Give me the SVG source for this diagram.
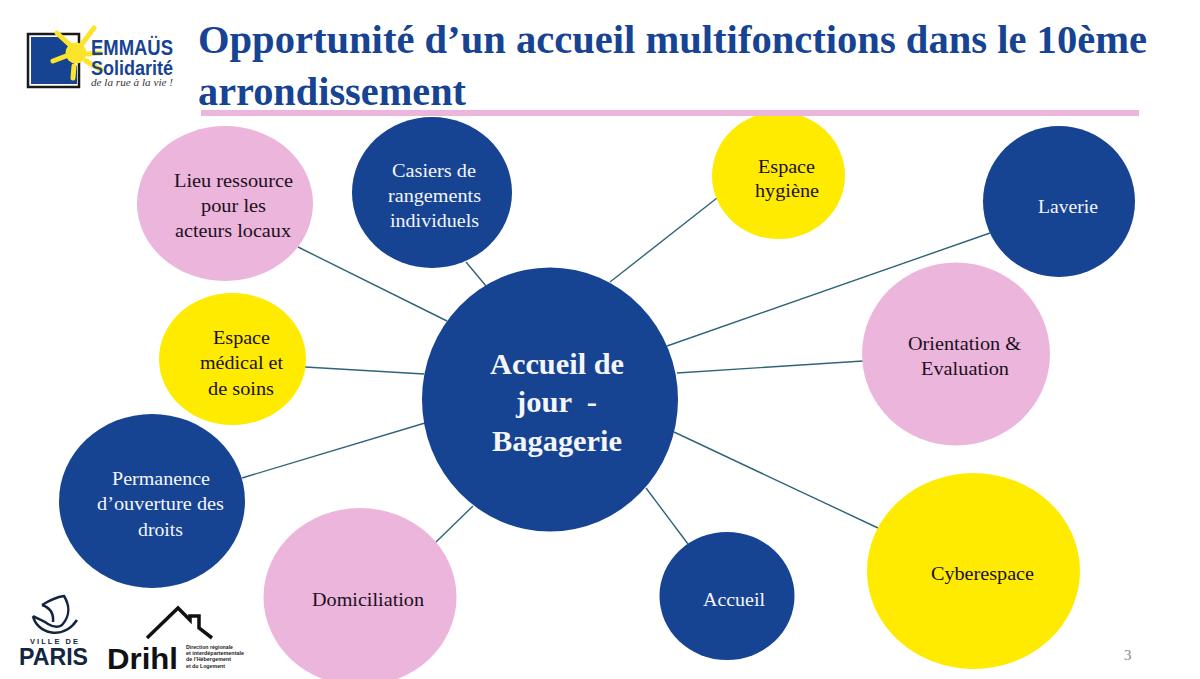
<svg xmlns="http://www.w3.org/2000/svg" width="1200" height="679" viewBox="0 0 1200 679">
<style>
.n{font-family:"Liberation Serif",serif;font-size:19px}
.m{font-size:29px;font-weight:bold}
.w{fill:#f4f6fb}.k{fill:#1b1020}
.b{fill:#174393}.p{fill:#ecb5dc}.y{fill:#feeb00}
.t{font-family:"Liberation Serif",serif;font-size:40px;font-weight:bold;fill:#174393}
.c line{stroke:#2f6478;stroke-width:1.4}
.lg{font-family:"Liberation Sans",sans-serif;font-weight:bold}
.s{font-family:"Liberation Sans",sans-serif;font-size:5px;font-weight:bold;fill:#222}
.ray{stroke:#fbe42a;stroke-width:5;stroke-linecap:round}
</style>
<rect width="1200" height="679" fill="#fff"/>
<g id="connectors" class="c">
<line x1="298" y1="247" x2="447" y2="321"/>
<line x1="466" y1="262" x2="486" y2="286"/>
<line x1="610" y1="282" x2="717" y2="198"/>
<line x1="667" y1="346" x2="990" y2="233"/>
<line x1="677" y1="373" x2="863" y2="361"/>
<line x1="674" y1="432" x2="878" y2="528"/>
<line x1="646" y1="488" x2="688" y2="544"/>
<line x1="473" y1="506" x2="436" y2="542"/>
<line x1="242" y1="478" x2="425" y2="423"/>
<line x1="305" y1="367" x2="424" y2="374"/>
</g>
<g id="node-lieu"><ellipse class="p" cx="225" cy="203.500" rx="88" ry="77.500"/><text class="n k" x="174" y="187" textLength="119" lengthAdjust="spacingAndGlyphs">Lieu ressource</text><text class="n k" x="201" y="212" textLength="65" lengthAdjust="spacingAndGlyphs">pour les</text><text class="n k" x="175" y="237" textLength="116" lengthAdjust="spacingAndGlyphs">acteurs locaux</text></g>
<g id="node-casiers"><ellipse class="b" cx="432" cy="192.500" rx="80" ry="75.500"/><text class="n w" x="392" y="177" textLength="84" lengthAdjust="spacingAndGlyphs">Casiers de</text><text class="n w" x="388" y="202" textLength="93" lengthAdjust="spacingAndGlyphs">rangements</text><text class="n w" x="390" y="227" textLength="89" lengthAdjust="spacingAndGlyphs">individuels</text></g>
<g id="node-hygiene"><ellipse class="y" cx="778.500" cy="175.500" rx="66.500" ry="63.500"/><text class="n k" x="758" y="173" textLength="57" lengthAdjust="spacingAndGlyphs">Espace</text><text class="n k" x="755" y="197" textLength="64" lengthAdjust="spacingAndGlyphs">hygiène</text></g>
<g id="node-laverie"><ellipse class="b" cx="1059" cy="201.500" rx="76" ry="75.500"/><text class="n w" x="1038" y="213" textLength="60" lengthAdjust="spacingAndGlyphs">Laverie</text></g>
<g id="node-orientation"><ellipse class="p" cx="956" cy="354" rx="94" ry="91.500"/><text class="n k" x="908" y="350" textLength="113" lengthAdjust="spacingAndGlyphs">Orientation &amp;</text><text class="n k" x="921" y="375" textLength="88" lengthAdjust="spacingAndGlyphs">Evaluation</text></g>
<g id="node-cyber"><ellipse class="y" cx="973.500" cy="571" rx="106.500" ry="98"/><text class="n k" x="931" y="580" textLength="103" lengthAdjust="spacingAndGlyphs">Cyberespace</text></g>
<g id="node-accueil"><ellipse class="b" cx="727" cy="596" rx="67.500" ry="64"/><text class="n w" x="703" y="606" textLength="62" lengthAdjust="spacingAndGlyphs">Accueil</text></g>
<g id="node-domiciliation"><ellipse class="p" cx="360" cy="597" rx="96.500" ry="89"/><text class="n k" x="312" y="606" textLength="112" lengthAdjust="spacingAndGlyphs">Domiciliation</text></g>
<g id="node-permanence"><ellipse class="b" cx="152" cy="501" rx="93" ry="87"/><text class="n w" x="112" y="485" textLength="98" lengthAdjust="spacingAndGlyphs">Permanence</text><text class="n w" x="97" y="510" textLength="127" lengthAdjust="spacingAndGlyphs">d’ouverture des</text><text class="n w" x="138" y="536" textLength="45" lengthAdjust="spacingAndGlyphs">droits</text></g>
<g id="node-medical"><ellipse class="y" cx="232.500" cy="359" rx="73.500" ry="66"/><text class="n k" x="213" y="344" textLength="57" lengthAdjust="spacingAndGlyphs">Espace</text><text class="n k" x="200" y="369" textLength="83" lengthAdjust="spacingAndGlyphs">médical et</text><text class="n k" x="208" y="395" textLength="66" lengthAdjust="spacingAndGlyphs">de soins</text></g>
<g id="node-center"><ellipse class="b" cx="550" cy="399.500" rx="128" ry="132"/><text class="n w m" x="490" y="374" textLength="134" lengthAdjust="spacingAndGlyphs">Accueil de</text><text class="n w m" x="516" y="412" xml:space="preserve" textLength="81" lengthAdjust="spacingAndGlyphs">jour  -</text><text class="n w m" x="492" y="451" textLength="130" lengthAdjust="spacingAndGlyphs">Bagagerie</text></g>
<text class="t" x="198" y="53" textLength="949" lengthAdjust="spacingAndGlyphs">Opportunité d’un accueil multifonctions dans le 10ème</text>
<text class="t" x="198" y="105" textLength="268" lengthAdjust="spacingAndGlyphs">arrondissement</text>
<rect x="201" y="110" width="938" height="6" fill="#ecb5dc"/>
<text x="1124" y="660" style="font-family:'Liberation Serif',serif;font-size:15px" fill="#888">3</text>
<g id="logo-emmaus">
<rect x="28" y="34" width="51" height="53" fill="#fff" stroke="#1a1a1a" stroke-width="2.500"/>
<path d="M31 37H60L68 46L66 56L77 66V84H31Z" fill="#174393"/>
<g class="ray"><line x1="70" y1="45" x2="57" y2="33"/><line x1="82" y1="44" x2="94" y2="28"/><line x1="66" y1="56" x2="53" y2="61"/><line x1="74" y1="66" x2="73" y2="78"/><line x1="86" y1="61" x2="101" y2="70"/><line x1="88" y1="54" x2="100" y2="53"/></g>
<circle cx="76" cy="53" r="10.500" fill="#fbe42a"/>
<text class="lg" x="91" y="55" fill="#174393" style="font-size:22px" textLength="82" lengthAdjust="spacingAndGlyphs">EMMAÜS</text>
<text class="lg" x="91" y="75" fill="#174393" style="font-size:21px" textLength="82" lengthAdjust="spacingAndGlyphs">Solidarité</text>
<text x="91" y="86" fill="#333" style="font-family:'Liberation Serif',serif;font-size:9.500px;font-style:italic" textLength="82" lengthAdjust="spacingAndGlyphs">de la rue à la vie !</text>
</g>
<g id="logo-paris">
<path d="M42 605C50 600 57 597 64 596C69 604 71 615 62 625C58 628 53 627 48 624M42 605C48 607 54 612 53 622M33 616C40 620 44 621 48 624M33 616C36 632 62 642 77 620" fill="none" stroke="#12263f" stroke-width="2.500"/>
<text x="30" y="644" style="font-family:'Liberation Sans',sans-serif;font-size:7.500px;font-weight:bold" fill="#12263f" textLength="48">VILLE DE</text>
<text class="lg" x="19" y="665" style="font-size:23px" fill="#12263f" textLength="69" lengthAdjust="spacingAndGlyphs">PARIS</text>
</g>
<g id="logo-drihl">
<path d="M147 638L178 608L190 620V616H199V628L212 638" fill="none" stroke="#111" stroke-width="3.500"/>
<text class="lg" x="107" y="669" style="font-size:30px" fill="#111" textLength="71" lengthAdjust="spacingAndGlyphs">Drihl</text>
<text class="s" x="186" y="649" textLength="47" lengthAdjust="spacingAndGlyphs">Direction régionale</text><text class="s" x="186" y="655" textLength="58" lengthAdjust="spacingAndGlyphs">et interdépartementale</text><text class="s" x="186" y="661" textLength="45" lengthAdjust="spacingAndGlyphs">de l’Hébergement</text><text class="s" x="186" y="668" textLength="39" lengthAdjust="spacingAndGlyphs">et du Logement</text>
</g>
</svg>
